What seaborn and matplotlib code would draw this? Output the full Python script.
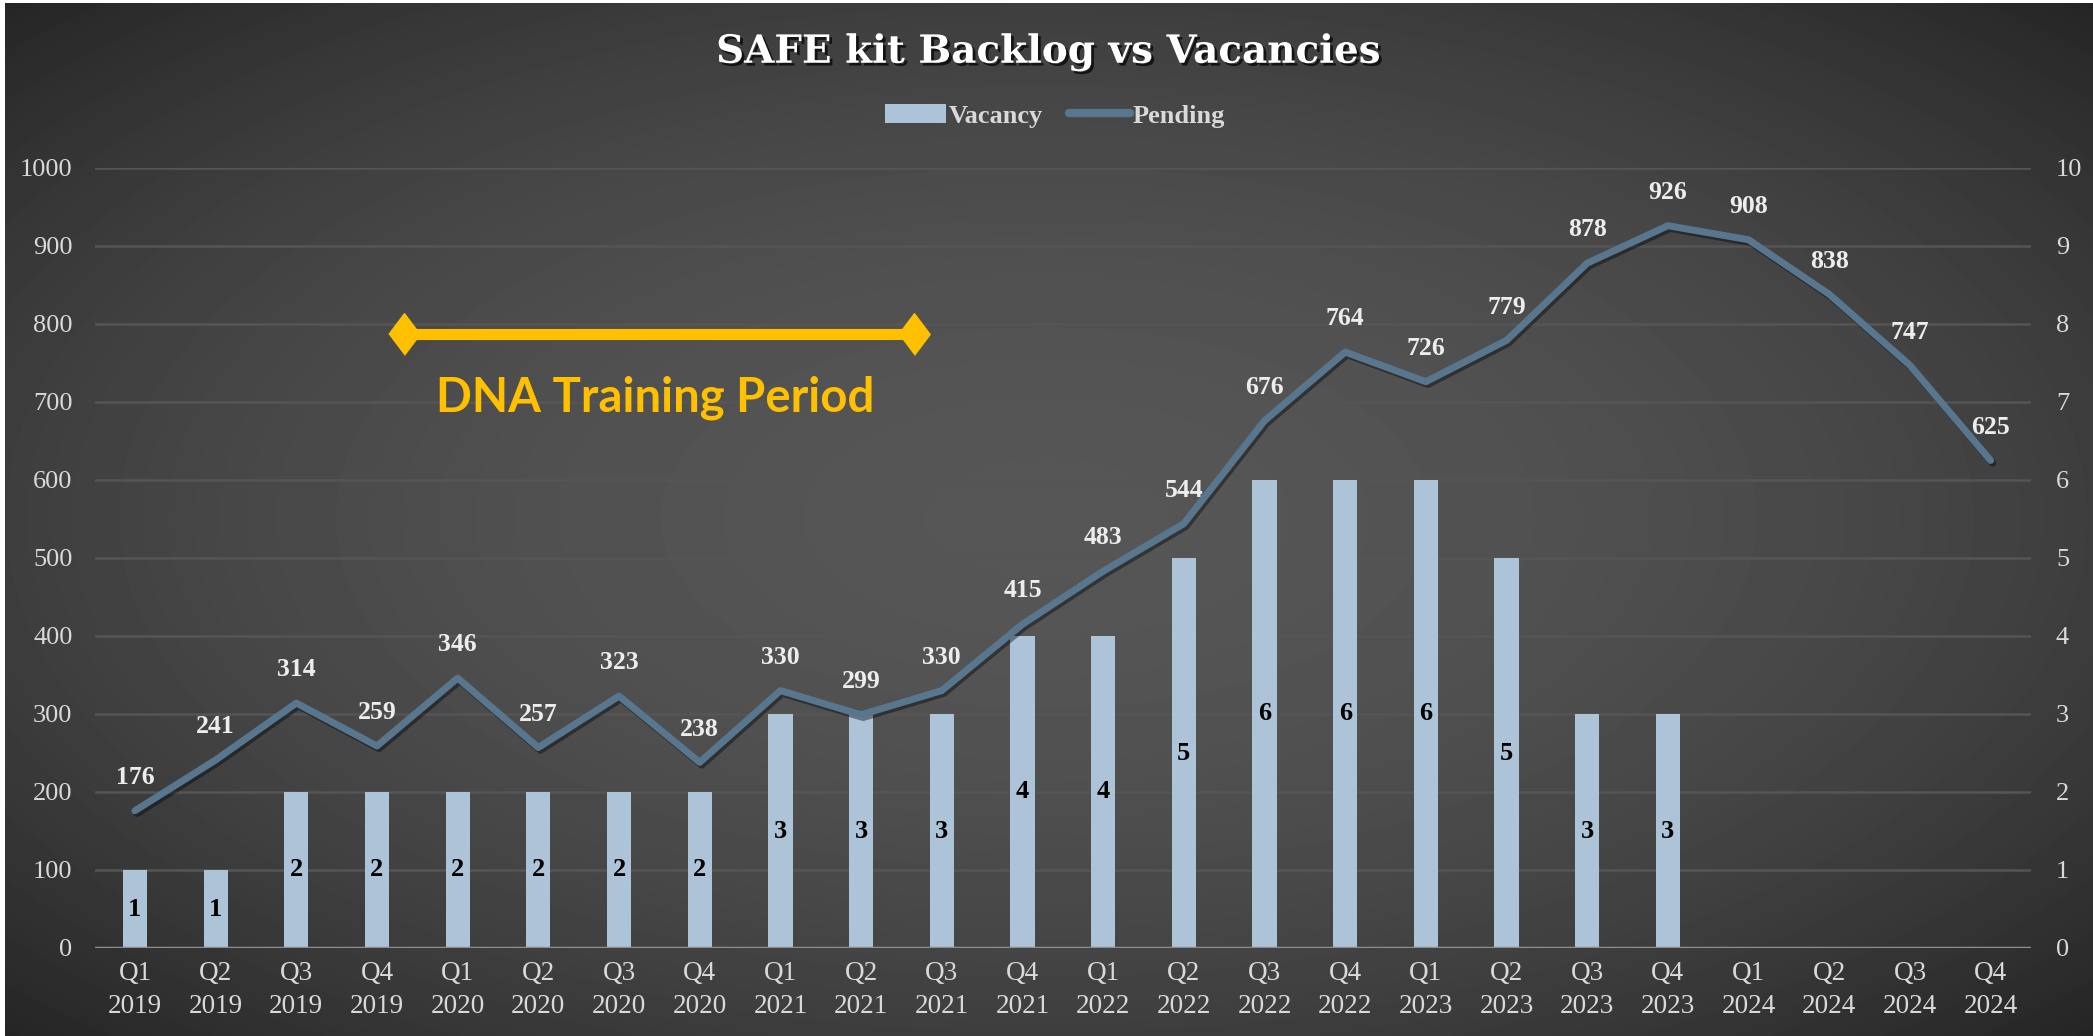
import numpy as np
import pandas as pd
import matplotlib
matplotlib.use("Agg")
import matplotlib.pyplot as plt
import matplotlib.patheffects as pe
from matplotlib.lines import Line2D
from matplotlib.patches import Patch, Rectangle
import seaborn as sns

# ---- data ----
quarters = ["Q1", "Q2", "Q3", "Q4"] * 6
years = [2019] * 4 + [2020] * 4 + [2021] * 4 + [2022] * 4 + [2023] * 4 + [2024] * 4
pending = [176, 241, 314, 259, 346, 257, 323, 238, 330, 299, 330, 415,
           483, 544, 676, 764, 726, 779, 878, 926, 908, 838, 747, 625]
vacancy = [1, 1, 2, 2, 2, 2, 2, 2, 3, 3, 3, 4,
           4, 5, 6, 6, 6, 5, 3, 3, np.nan, np.nan, np.nan, np.nan]
left_ticks = list(range(0, 1001, 100))
right_ticks = list(range(0, 11))

# annotation (category units / left-axis units)
training_span = (3.33, 9.65)
training_y = 787
training_text_pos = (6.45, 706)

BG_CENTER, BG_EDGE = 86, 37
BAR_COLOR = "#ADC3D8"
LINE_COLOR = "#58778F"
TEXT_COLOR = "#D9D9D9"
GOLD = "#FFC000"

labels = [f"{q}\n{y}" for q, y in zip(quarters, years)]
df = pd.DataFrame({"label": labels, "pos": np.arange(len(labels)),
                   "pending": pending, "vacancy": vacancy})
# blank quarters are drawn as empty (zero-height) bars
df["vacancy_plot"] = df["vacancy"].fillna(0)

sns.set_style("dark")
plt.rcParams["font.family"] = ["Liberation Serif", "DejaVu Serif"]

W, H = 2093, 1036
fig = plt.figure(figsize=(W / 100, H / 100), dpi=100)

# radial-ish gradient background
bg = fig.add_axes([0, 0, 1, 1], zorder=-10)
yy, xx = np.mgrid[-1:1:1036j, -1:1:2093j]
r2 = (xx ** 2 + yy ** 2) / 2
grad = BG_CENTER - (BG_CENTER - BG_EDGE) * r2
bg.imshow(grad, cmap="gray", vmin=0, vmax=255, aspect="auto", extent=(0, 1, 0, 1),
          interpolation="bilinear")
bg.axis("off")

ax = fig.add_axes([94.6 / W, 1 - 948 / H, (2031 - 94.6) / W, (948 - 168) / H])
ax.set_facecolor("none")
ax2 = ax.twinx()

# bars on the 0-10 scale
sns.barplot(data=df, x="label", y="vacancy_plot", order=labels, ax=ax,
            color=BAR_COLOR, saturation=1, width=0.3, zorder=2, linewidth=0, edgecolor="none")
bar_txt = ["" if np.isnan(v) else f"{int(v)}" for v in vacancy]
ax.bar_label(ax.containers[0], labels=bar_txt, label_type="center",
             color="black", fontsize=19, fontweight="bold")

# pending line on the 0-1000 scale
sns.lineplot(data=df, x="pos", y="pending", ax=ax2, color=LINE_COLOR, lw=5,
             solid_capstyle="round", solid_joinstyle="round",
             path_effects=[pe.SimpleLineShadow(offset=(1.5, -2), shadow_color="black", alpha=0.4),
                           pe.Normal()])
for i, v in enumerate(pending):
    ax2.annotate(f"{v}", (i, v), xytext=(0, 24), textcoords="offset points",
                 ha="center", va="center", color="#EDEDED", fontsize=18.5, fontweight="bold")

# training period marker
diamond = [(-0.75, 0), (0, 1), (0.75, 0), (0, -1)]
ax2.plot(training_span, [training_y, training_y], color=GOLD, lw=8,
         marker=diamond, ms=30, solid_capstyle="butt")
ax2.text(*training_text_pos, "DNA Training Period", ha="center", va="center",
         color=GOLD, fontsize=34, fontweight="bold", family=["Lato", "DejaVu Sans"])

# axes styling
n = len(labels)
ax.set_xlim(-0.5, n - 0.5)
ax.set_ylim(0, 10)
ax2.set_ylim(0, 1000)
ax.set_xticks(range(n), labels)
ax.set_yticks(right_ticks)
ax2.set_yticks(left_ticks)
ax.yaxis.tick_right()
ax2.yaxis.tick_left()
ax.tick_params(axis="x", length=0, pad=9, colors=TEXT_COLOR, labelsize=19.5)
ax.tick_params(axis="y", length=0, pad=18, colors=TEXT_COLOR, labelsize=19)
ax2.tick_params(axis="y", length=0, pad=16, colors=TEXT_COLOR, labelsize=19)
for t in ax.get_xticklabels():
    t.set_linespacing(1.45)
ax.set_xlabel("")
ax.set_ylabel("")
ax2.set_xlabel("")
ax2.set_ylabel("")
ax.grid(axis="y", color="#555555", lw=1.8, zorder=0)
ax.grid(axis="x", visible=False)
ax2.grid(False)
for a in (ax, ax2):
    for s in a.spines.values():
        s.set_visible(False)
ax.axhline(0, color="#8E8E8E", lw=2.5, zorder=3)

# legend
handles = [Patch(facecolor=BAR_COLOR, edgecolor="none"),
           Line2D([], [], color=LINE_COLOR, lw=6, solid_capstyle="round")]
fig.legend(handles, ["Vacancy", "Pending"], loc="center", bbox_to_anchor=(0.504, 1 - 116 / H),
           ncol=2, frameon=False, handlelength=2.3, handletextpad=0.1, columnspacing=1.0,
           labelcolor=TEXT_COLOR, prop={"size": 19, "weight": "bold"})

# title
fig.text(0.501, 1 - 52 / H, "SAFE kit Backlog vs Vacancies", ha="center", va="center",
         color="white", fontsize=28, fontweight="bold", family=["DejaVu Serif"],
         path_effects=[pe.withSimplePatchShadow(offset=(2, -2), shadow_rgbFace="black", alpha=0.7)])

# thin white screenshot edges
fig.patches.append(Rectangle((0, 1 - 3 / H), 1, 3 / H, transform=fig.transFigure,
                             facecolor="white", edgecolor="none", zorder=5))
fig.patches.append(Rectangle((0, 0), 5 / W, 1, transform=fig.transFigure,
                             facecolor="white", edgecolor="none", zorder=5))

fig.savefig("out.png", dpi=100)
